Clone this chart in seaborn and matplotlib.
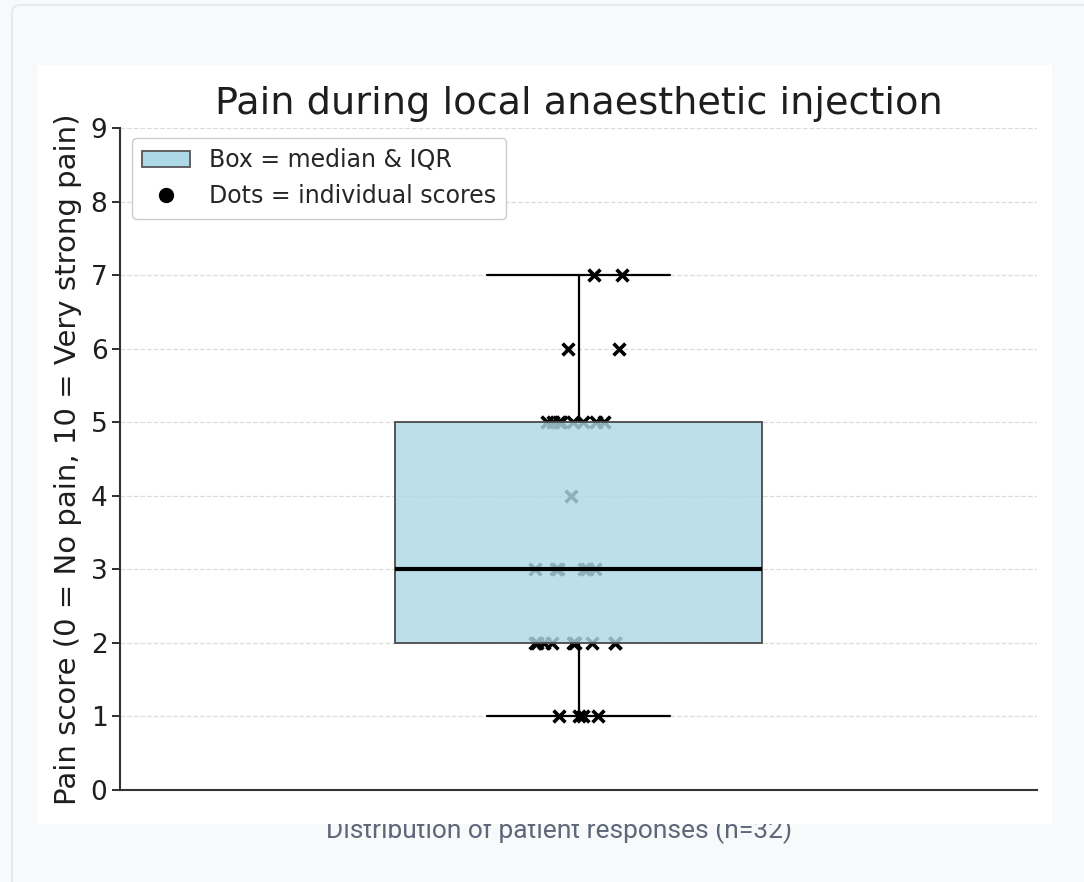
import matplotlib
matplotlib.use("Agg")
import matplotlib.pyplot as plt
import numpy as np
import pandas as pd
import seaborn as sns
from matplotlib.lines import Line2D
from matplotlib.patches import FancyBboxPatch, Patch, Rectangle

# Pain scores (n=32)
score_levels = [1, 2, 3, 4, 5, 6, 7]
score_counts = [4, 9, 6, 1, 8, 2, 2]

TITLE = "Pain during local anaesthetic injection"
YLABEL = "Pain score (0 = No pain, 10 = Very strong pain)"
CAPTION = "Distribution of patient responses (n=32)"
LEGEND_LABELS = ["Box = median & IQR", "Dots = individual scores"]

BOX_COLOR = "#add8e6"
W, H = 1084, 882

scores = np.repeat(score_levels, score_counts)
df = pd.DataFrame({"group": "all", "score": scores})

sns.set_theme(style="white")
plt.rcParams["font.family"] = ["DejaVu Sans"]

fig = plt.figure(figsize=(W / 100, H / 100), dpi=100, facecolor="#f8f9fa")

# card outline and caption (caption sits partly under the chart image)
fig.patches.append(FancyBboxPatch((12 / W, -0.05), 1.1, 1.05 - 5 / H,
                                  boxstyle="round,pad=0,rounding_size=0.008",
                                  transform=fig.transFigure, facecolor="#f8f9fa",
                                  edgecolor="#e3e6ea", linewidth=1.2, zorder=0))
fig.text(559 / W, 1 - 838 / H, CAPTION, ha="center", va="baseline",
         fontsize=19, color="#5d6778", family=["Roboto", "DejaVu Sans"], zorder=1)
fig.patches.append(Rectangle((38 / W, 1 - 824 / H), (1052 - 38) / W, (824 - 65) / H,
                             transform=fig.transFigure, facecolor="white",
                             edgecolor="none", zorder=2))

ax = fig.add_axes([120 / W, 1 - 790 / H, 917 / W, (790 - 128) / H], zorder=3)
ax.set_facecolor("none")

np.random.seed(3)
sns.stripplot(data=df, x="group", y="score", ax=ax, jitter=0.05, marker="x",
              color="black", size=8.5, linewidth=2.6, zorder=2)
sns.boxplot(data=df, x="group", y="score", ax=ax, width=0.4, saturation=1,
            showfliers=False, whis=1.5,
            boxprops=dict(facecolor=(0.678, 0.847, 0.902, 0.82), edgecolor="#4a4a4a",
                          linewidth=1.3, zorder=3),
            medianprops=dict(color="black", linewidth=3, zorder=4),
            whiskerprops=dict(color="black", linewidth=1.6),
            capprops=dict(color="black", linewidth=1.6))

ax.set_xlim(-0.5, 0.5)
ax.set_ylim(0, 9)
ax.set_yticks(range(0, 10))
ax.set_xticks([])
ax.set_xlabel("")
ax.set_ylabel(YLABEL, fontsize=21, color="#1e1e1e", labelpad=6)
ax.set_title(TITLE, fontsize=27.5, color="#1e1e1e", pad=10)
ax.tick_params(axis="y", labelsize=19, length=6, width=1.3, left=True,
               colors="#1e1e1e", pad=3)
ax.yaxis.grid(True, linestyle="--", color="#dcdcdc", linewidth=0.9)
ax.set_axisbelow(True)
sns.despine(ax=ax)
for side in ("left", "bottom"):
    ax.spines[side].set_color("#333333")
    ax.spines[side].set_linewidth(1.5)

handles = [Patch(facecolor=BOX_COLOR, edgecolor="#555555", linewidth=1.3),
           Line2D([], [], marker="o", color="black", linestyle="none", markersize=10)]
ax.legend(handles, LEGEND_LABELS, loc="upper left", fontsize=17, frameon=True,
          edgecolor="#cccccc", framealpha=1, borderpad=0.45, handlelength=2.0,
          labelspacing=0.5, bbox_to_anchor=(0.0, 1.003))

fig.savefig("out.png", dpi=100, facecolor=fig.get_facecolor())
